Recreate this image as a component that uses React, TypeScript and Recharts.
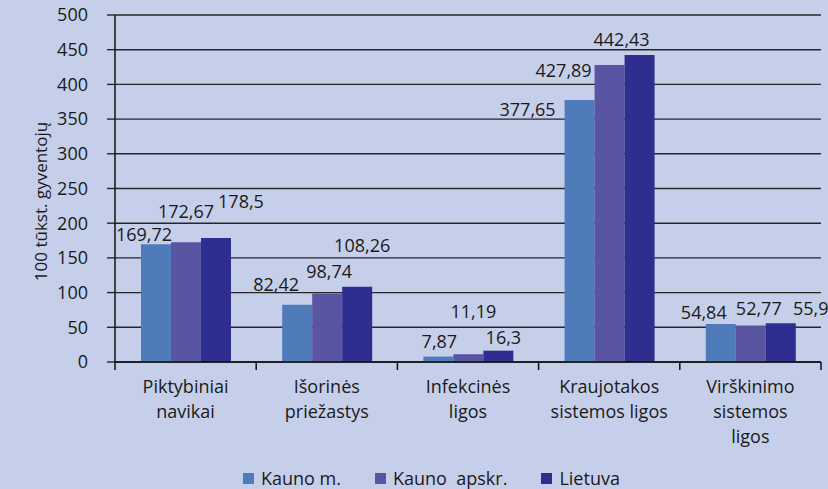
import React from "react";
import { BarChart, Bar, XAxis, YAxis, CartesianGrid, LabelList } from "recharts";

const categories = [
  "Piktybiniai\nnavikai",
  "Išorinės\npriežastys",
  "Infekcinės\nligos",
  "Kraujotakos\nsistemos ligos",
  "Virškinimo\nsistemos\nligos",
];
const seriesNames = ["Kauno m.", "Kauno  apskr.", "Lietuva"];
const kaunoM = [169.72, 82.42, 7.87, 377.65, 54.84];
const kaunoApskr = [172.67, 98.74, 11.19, 427.89, 52.77];
const lietuva = [178.5, 108.26, 16.3, 442.43, 55.9];
const yTicks = [0, 50, 100, 150, 200, 250, 300, 350, 400, 450, 500];

const colors = ["#4F7BBA", "#5A55A2", "#2E2E8F"];
const keys = ["s0", "s1", "s2"];

// label nudges (dx, dy) relative to bar top-center, per series & category
const labelNudges = [
  [[-12, -10], [-21, -21], [1, -16], [-52, 9], [-17, -12]],
  [[0, -31], [2, -22], [5, -43], [-46, 5], [8, -17]],
  [[25, -37], [5, -42], [5, -14], [-18, -16], [30, -15]],
];

const data = categories.map((c, i) => ({
  name: c,
  s0: kaunoM[i],
  s1: kaunoApskr[i],
  s2: lietuva[i],
}));

const FONT = "'Open Sans', sans-serif";
const W = 828;
const H = 489;
const MARGIN = { top: 15, right: 7, left: 0, bottom: 0 };
const YW = 115;
const BAND = (W - MARGIN.left - MARGIN.right - YW) / categories.length;

const fmt = (v: number) => String(v).replace(".", ",");

const makeLabel = (si: number) => (props: any) => {
  const { x, y, width, value, index } = props;
  const [dx, dy] = labelNudges[si][index];
  return (
    <text
      x={x + width / 2 + dx}
      y={y + dy}
      textAnchor="middle"
      dominantBaseline="central"
      fontFamily={FONT}
      fontSize={18}
      fill="#1a1a1a"
    >
      {fmt(value)}
    </text>
  );
};

const CatTick = (props: any) => {
  const { x, y, payload, index } = props;
  const lines = String(payload.value).split("\n");
  return (
    <g>
      <line x1={x - BAND / 2} x2={x - BAND / 2} y1={y} y2={y + 8} stroke="#111" strokeWidth={1.5} />
      {index === categories.length - 1 && (
        <line x1={x + BAND / 2} x2={x + BAND / 2} y1={y} y2={y + 8} stroke="#111" strokeWidth={1.5} />
      )}
      {lines.map((l, i) => (
        <text
          key={i}
          x={x}
          y={y + 24 + i * 25}
          textAnchor="middle"
          dominantBaseline="central"
          fontFamily={FONT}
          fontSize={18}
          fill="#1a1a1a"
        >
          {l}
        </text>
      ))}
    </g>
  );
};

const YLabel = (props: any) => {
  const vb = props.viewBox || { x: 0, y: 0, height: 0 };
  const cx = vb.x + 40;
  const cy = vb.y + vb.height / 2 + 13;
  return (
    <text
      x={cx}
      y={cy}
      transform={`rotate(-90 ${cx} ${cy})`}
      textAnchor="middle"
      dominantBaseline="central"
      fontFamily={FONT}
      fontSize={17}
      fill="#1a1a1a"
    >
      100 tūkst. gyventojų
    </text>
  );
};

export default function App() {
  return (
    <div
      style={{
        position: "absolute",
        left: 0,
        top: 0,
        width: W,
        height: H,
        background: "#C6CFEA",
        overflow: "hidden",
      }}
    >
      <BarChart
        width={W}
        height={H}
        data={data}
        margin={MARGIN}
        barCategoryGap="18.4%"
        barGap={0}
      >
        <CartesianGrid vertical={false} stroke="#262626" strokeWidth={1.4} />
        <XAxis
          dataKey="name"
          height={127}
          interval={0}
          tickLine={false}
          tickSize={0}
          tickMargin={0}
          axisLine={{ stroke: "#111", strokeWidth: 1.5 }}
          tick={<CatTick />}
        />
        <YAxis
          width={YW}
          domain={[0, 500]}
          ticks={yTicks}
          interval={0}
          tickSize={8}
          tickMargin={19}
          tickLine={{ stroke: "#262626", strokeWidth: 1.4 }}
          axisLine={{ stroke: "#111", strokeWidth: 1.5 }}
          tick={{ fontFamily: FONT, fontSize: 18, fill: "#1a1a1a" }}
          label={{ content: <YLabel /> }}
        />
        {keys.map((k, si) => (
          <Bar key={k} dataKey={k} name={seriesNames[si]} fill={colors[si]} isAnimationActive={false}>
            <LabelList dataKey={k} content={makeLabel(si)} />
          </Bar>
        ))}
      </BarChart>
      <div
        style={{
          position: "absolute",
          left: 243,
          top: 466,
          height: 24,
          display: "flex",
          alignItems: "center",
          fontFamily: FONT,
          fontSize: 18,
          color: "#1a1a1a",
          whiteSpace: "pre",
        }}
      >
        {seriesNames.map((n, i) => (
          <div key={n} style={{ display: "flex", alignItems: "center", marginRight: 34 }}>
            <div style={{ width: 11, height: 11, background: colors[i], marginRight: 7 }} />
            <span>{n}</span>
          </div>
        ))}
      </div>
    </div>
  );
}
